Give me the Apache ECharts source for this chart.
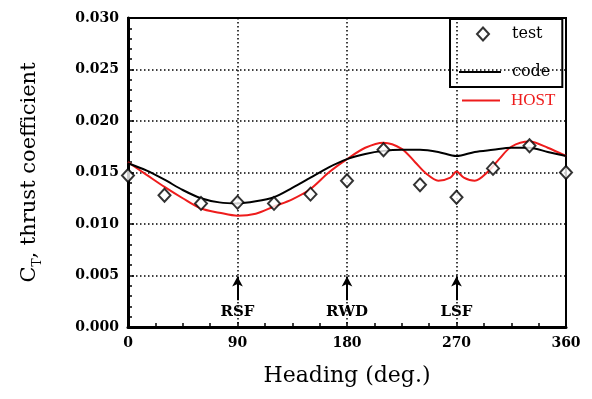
<!DOCTYPE html>
<html>
<head>
<meta charset="utf-8">
<script src="https://cdn.jsdelivr.net/npm/echarts@6/dist/echarts.min.js"></script>
<style>
  html, body { margin: 0; padding: 0; background: #fff; }
  #chart { width: 592px; height: 399px; }
</style>
</head>
<body>
<div id="chart"></div>
<script>
// test measurements (deg, C_T)
const testHeading = [0, 30, 60, 90, 120, 150, 180, 210, 240, 270, 300, 330, 360]
const testCT = [0.0147, 0.0128, 0.0120, 0.0121, 0.0120, 0.0129, 0.0142, 0.0172, 0.0138, 0.0126, 0.0154, 0.0176, 0.0150]

// code prediction
const codeHeading = [0, 15, 30, 45, 60, 75, 90, 105, 120, 135, 150, 165, 180, 195, 210, 225, 240, 255, 270, 285, 300, 315, 330, 345, 360]
const codeCT = [0.0159, 0.0152, 0.0143, 0.0133, 0.0125, 0.0121, 0.0120, 0.0122, 0.0126, 0.0135, 0.0145, 0.0155, 0.0163, 0.0168, 0.0171, 0.0172, 0.0172, 0.0170, 0.0166, 0.0170, 0.0172, 0.0174, 0.0174, 0.0170, 0.0166]

// HOST prediction
const hostHeading = [0, 15, 30, 45, 60, 75, 90, 105, 120, 135, 150, 165, 180, 195, 210, 225, 236, 245, 255, 265, 270, 276, 285, 296, 305, 315, 330, 345, 360]
const hostCT = [0.0160, 0.0148, 0.0136, 0.0125, 0.0115, 0.0111, 0.0108, 0.0110, 0.0117, 0.0124, 0.0134, 0.0150, 0.0163, 0.0174, 0.0179, 0.0173, 0.0160, 0.0149, 0.0142, 0.0145, 0.0151, 0.0145, 0.0142, 0.0151, 0.0163, 0.0175, 0.0180, 0.0174, 0.0166]

// wind direction annotations
const markHeading = [90, 180, 270]
const markLabels = ['RSF', 'RWD', 'LSF']
const arrowFrom = 0.0026
const arrowTo = 0.0049

const xTicks = [0, 90, 180, 270, 360]
const yTicks = ['0.000', '0.005', '0.010', '0.015', '0.020', '0.025', '0.030']

const zip = (xs, ys) => xs.map((x, i) => [x, ys[i]])

const chartDom = document.getElementById('chart')
const echart = echarts.init(chartDom)

const serif = 'DejaVu Serif'
const dotted = {color: '#000', width: 1.5, type: [1.5, 2.5]}
// legend icons, padded to the full item box so they are not stretched
const diamondIcon = 'path://M0,0 M48,13 M24,0 L30,6.5 L24,13 L18,6.5 Z'
const lineIcon = 'path://M0,0 M48,13 M0,5.5 H42 V7.5 H0 Z'
const hostIcon = 'path://M0,0 M44,13 M0,5.5 H38 V7.5 H0 Z'

const option = {
  animation: false,
  grid: {
    left: 128,
    right: 26,
    top: 18,
    bottom: 72,
    show: true,
    borderColor: '#000',
    borderWidth: 2,
  },
  legend: [
    {
      data: [{name: 'test', icon: diamondIcon}, {name: 'code', icon: lineIcon}],
      orient: 'vertical',
      left: 450,
      top: 19,
      padding: [7, 12, 7, 8],
      itemGap: 22,
      itemWidth: 48,
      itemHeight: 13,
      borderColor: '#000',
      borderWidth: 2,
      textStyle: {fontFamily: serif, fontSize: 16, color: '#000'},
    },
    {
      data: [{name: 'HOST', icon: hostIcon}],
      left: 462,
      top: 92,
      padding: 0,
      itemWidth: 44,
      itemHeight: 13,
      textStyle: {fontFamily: 'Liberation Serif', fontSize: 17, color: '#ee1c1c'},
    },
  ],
  xAxis: {
    type: 'value',
    min: 0,
    max: 360,
    interval: 90,
    name: 'Heading (deg.)',
    nameLocation: 'middle',
    nameGap: 38,
    nameTextStyle: {fontFamily: serif, fontSize: 22, color: '#000'},
    axisLine: {lineStyle: {color: '#000', width: 3}},
    axisTick: {inside: true, length: 5, lineStyle: {color: '#000', width: 1.5}},
    minorTick: {show: true, splitNumber: 4, length: 4, lineStyle: {color: '#000', width: 1.5}},
    axisLabel: {
      margin: 9,
      fontFamily: serif,
      fontSize: 14,
      fontWeight: 'bold',
      color: '#000',
      formatter: v => (xTicks.includes(v) ? String(v) : ''),
    },
    splitLine: {show: true, lineStyle: dotted},
  },
  yAxis: {
    type: 'value',
    min: 0,
    max: 0.03,
    interval: 0.005,
    name: '{a|C}{b|T}{a|, thrust coefficient}',
    nameLocation: 'middle',
    nameRotate: 90,
    nameGap: 84,
    nameTextStyle: {
      rich: {
        a: {fontFamily: serif, fontSize: 21, color: '#000'},
        b: {fontFamily: serif, fontSize: 12, color: '#000', padding: [16, 0, 0, 0]},
      },
    },
    axisLine: {lineStyle: {color: '#000', width: 3}},
    axisTick: {inside: true, length: 6, lineStyle: {color: '#000', width: 1.5}},
    minorTick: {show: true, splitNumber: 5, length: 4, lineStyle: {color: '#000', width: 1.5}},
    axisLabel: {
      margin: 9,
      fontFamily: serif,
      fontSize: 14,
      fontWeight: 'bold',
      color: '#000',
      formatter: v => yTicks[Math.round(v / 0.005)],
    },
    splitLine: {show: true, lineStyle: dotted},
  },
  series: [
    {
      name: 'HOST',
      type: 'line',
      data: zip(hostHeading, hostCT),
      smooth: 0.3,
      symbol: 'none',
      itemStyle: {color: '#ee1c1c'},
      lineStyle: {color: '#ee1c1c', width: 2},
      z: 2,
    },
    {
      name: 'code',
      type: 'line',
      data: zip(codeHeading, codeCT),
      smooth: 0.3,
      symbol: 'none',
      itemStyle: {color: '#000'},
      lineStyle: {color: '#000', width: 2},
      z: 3,
      markLine: {
        silent: true,
        symbol: ['none', 'arrow'],
        symbolSize: [8, 10],
        lineStyle: {color: '#000', width: 2, type: 'solid'},
        label: {
          show: true,
          position: 'start',
          distance: 4,
          fontFamily: serif,
          fontSize: 15,
          fontWeight: 'bold',
          color: '#000',
          formatter: p => p.name,
        },
        data: markHeading.map((h, i) => [
          {name: markLabels[i], coord: [h, arrowFrom]},
          {coord: [h, arrowTo]},
        ]),
      },
    },
    {
      name: 'test',
      type: 'scatter',
      data: zip(testHeading, testCT),
      symbol: 'diamond',
      symbolSize: [12, 13],
      itemStyle: {color: '#fff', borderColor: '#000', borderWidth: 2},
      z: 4,
    },
  ],
}

option && echart.setOption(option)
</script>
</body>
</html>
